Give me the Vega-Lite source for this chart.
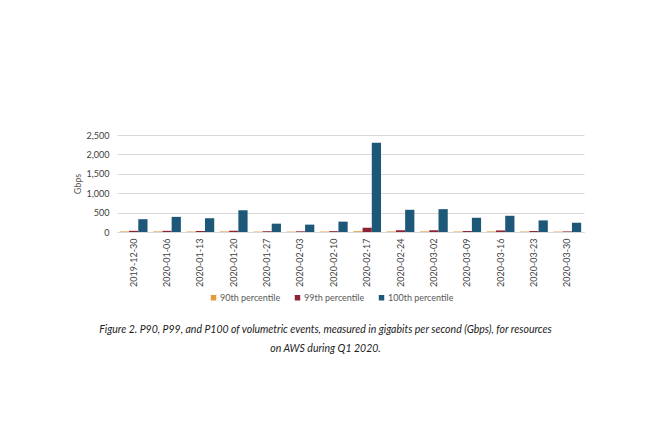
{
  "$schema": "https://vega.github.io/schema/vega-lite/v6.json",
  "width": 467,
  "height": 97,
  "autosize": {"type": "none"},
  "padding": {"left": 117, "top": 135, "right": 66, "bottom": 201},
  "background": "white",
  "config": {
    "font": "Lato",
    "view": {"stroke": null}
  },
  "data": {
    "values": [
      {"week": "2019-12-30", "series": "90th percentile", "gbps": 15},
      {"week": "2019-12-30", "series": "99th percentile", "gbps": 30},
      {"week": "2019-12-30", "series": "100th percentile", "gbps": 330},
      {"week": "2020-01-06", "series": "90th percentile", "gbps": 15},
      {"week": "2020-01-06", "series": "99th percentile", "gbps": 30},
      {"week": "2020-01-06", "series": "100th percentile", "gbps": 390},
      {"week": "2020-01-13", "series": "90th percentile", "gbps": 12},
      {"week": "2020-01-13", "series": "99th percentile", "gbps": 25},
      {"week": "2020-01-13", "series": "100th percentile", "gbps": 355},
      {"week": "2020-01-20", "series": "90th percentile", "gbps": 15},
      {"week": "2020-01-20", "series": "99th percentile", "gbps": 30},
      {"week": "2020-01-20", "series": "100th percentile", "gbps": 560},
      {"week": "2020-01-27", "series": "90th percentile", "gbps": 10},
      {"week": "2020-01-27", "series": "99th percentile", "gbps": 20},
      {"week": "2020-01-27", "series": "100th percentile", "gbps": 215},
      {"week": "2020-02-03", "series": "90th percentile", "gbps": 10},
      {"week": "2020-02-03", "series": "99th percentile", "gbps": 18},
      {"week": "2020-02-03", "series": "100th percentile", "gbps": 190},
      {"week": "2020-02-10", "series": "90th percentile", "gbps": 12},
      {"week": "2020-02-10", "series": "99th percentile", "gbps": 22},
      {"week": "2020-02-10", "series": "100th percentile", "gbps": 267},
      {"week": "2020-02-17", "series": "90th percentile", "gbps": 20},
      {"week": "2020-02-17", "series": "99th percentile", "gbps": 110},
      {"week": "2020-02-17", "series": "100th percentile", "gbps": 2300},
      {"week": "2020-02-24", "series": "90th percentile", "gbps": 15},
      {"week": "2020-02-24", "series": "99th percentile", "gbps": 45},
      {"week": "2020-02-24", "series": "100th percentile", "gbps": 572},
      {"week": "2020-03-02", "series": "90th percentile", "gbps": 15},
      {"week": "2020-03-02", "series": "99th percentile", "gbps": 45},
      {"week": "2020-03-02", "series": "100th percentile", "gbps": 589},
      {"week": "2020-03-09", "series": "90th percentile", "gbps": 12},
      {"week": "2020-03-09", "series": "99th percentile", "gbps": 25},
      {"week": "2020-03-09", "series": "100th percentile", "gbps": 367},
      {"week": "2020-03-16", "series": "90th percentile", "gbps": 15},
      {"week": "2020-03-16", "series": "99th percentile", "gbps": 40},
      {"week": "2020-03-16", "series": "100th percentile", "gbps": 418},
      {"week": "2020-03-23", "series": "90th percentile", "gbps": 12},
      {"week": "2020-03-23", "series": "99th percentile", "gbps": 25},
      {"week": "2020-03-23", "series": "100th percentile", "gbps": 299},
      {"week": "2020-03-30", "series": "90th percentile", "gbps": 10},
      {"week": "2020-03-30", "series": "99th percentile", "gbps": 15},
      {"week": "2020-03-30", "series": "100th percentile", "gbps": 239}
    ]
  },
  "mark": {"type": "bar"},
  "encoding": {
    "x": {
      "field": "week",
      "type": "nominal",
      "sort": null,
      "scale": {"paddingInner": 0.17, "paddingOuter": 0.085},
      "axis": {
        "labelAngle": -90,
        "labelFontSize": 9,
        "labelColor": "#404040",
        "labelPadding": 6,
        "ticks": false,
        "domainColor": "#d9d9d9",
        "title": ["Figure 2. P90, P99, and P100 of volumetric events, measured in gigabits per second (Gbps), for resources", "on AWS during Q1 2020."],
        "titleFontStyle": "italic",
        "titleFontWeight": "normal",
        "titleFontSize": 10.5,
        "titleColor": "#222222",
        "titleX": 208,
        "titleY": 92,
        "titleAnchor": "middle",
        "titleAlign": "center",
        "titleBaseline": "top",
        "titleLineHeight": 19
      }
    },
    "xOffset": {
      "field": "series",
      "type": "nominal",
      "sort": ["90th percentile", "99th percentile", "100th percentile"]
    },
    "y": {
      "field": "gbps",
      "type": "quantitative",
      "scale": {"domain": [0, 2500], "nice": false},
      "axis": {
        "values": [0, 500, 1000, 1500, 2000, 2500],
        "format": ",d",
        "labelFontSize": 9,
        "labelColor": "#404040",
        "labelPadding": 8,
        "ticks": false,
        "domain": false,
        "gridColor": "#d9d9d9",
        "title": "Gbps",
        "titleFontWeight": "normal",
        "titleFontSize": 9,
        "titleColor": "#595959",
        "titlePadding": 4
      }
    },
    "color": {
      "field": "series",
      "type": "nominal",
      "sort": ["90th percentile", "99th percentile", "100th percentile"],
      "scale": {
        "domain": ["90th percentile", "99th percentile", "100th percentile"],
        "range": ["#e39b3c", "#8c2436", "#1d5879"]
      },
      "legend": {
        "title": null,
        "orient": "none",
        "legendX": 92,
        "legendY": 158,
        "direction": "horizontal",
        "symbolType": "square",
        "symbolSize": 30,
        "labelFontSize": 9,
        "labelColor": "#595959",
        "labelOffset": 2,
        "columnPadding": 12
      }
    }
  }
}
